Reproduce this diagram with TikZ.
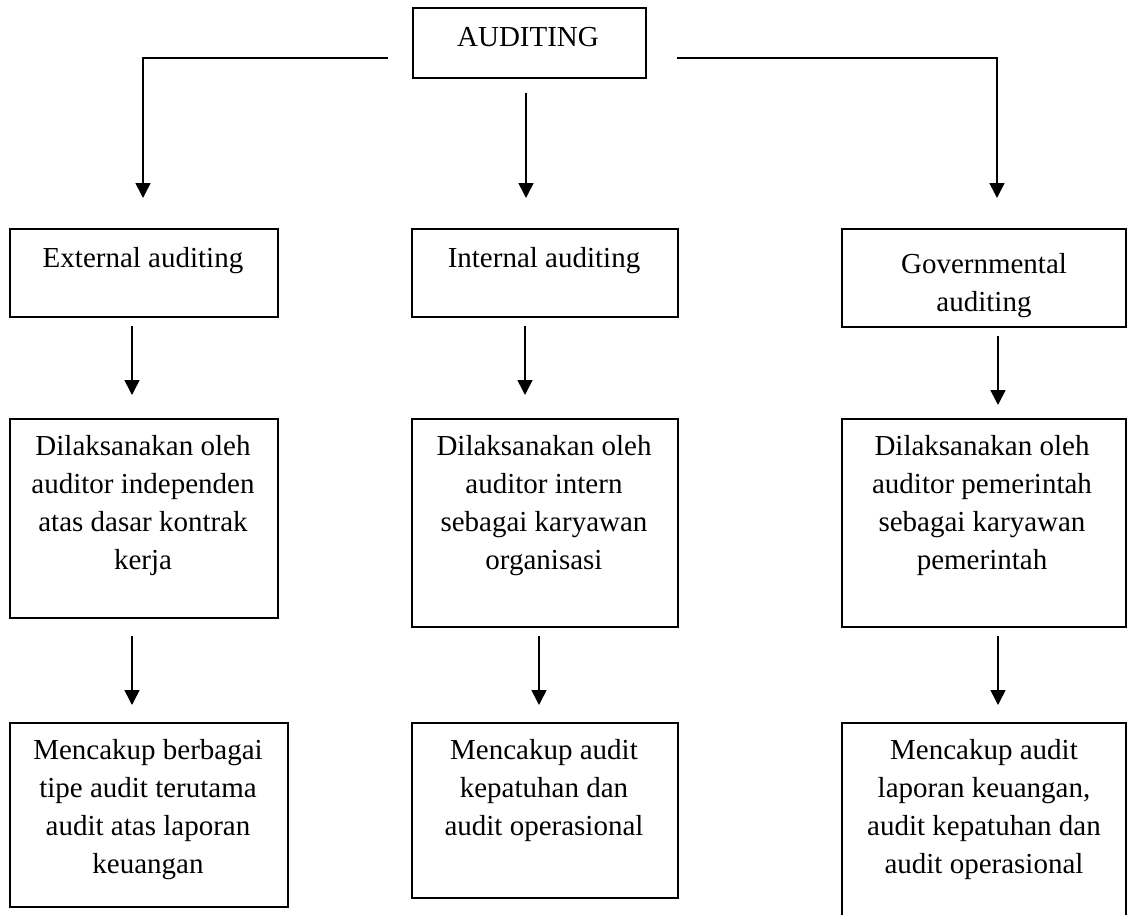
\documentclass[tikz,border=0pt]{standalone}
\usepackage{fontspec}
\setmainfont{Liberation Serif}
\usetikzlibrary{arrows.meta}
\begin{document}
\begin{tikzpicture}[x=1pt,y=-1pt,
  boxnode/.style={draw=black,line width=1.6pt,rectangle,inner sep=0pt,anchor=north west},
  txt/.style={inner sep=0pt,anchor=north,align=center,font=\fontsize{29}{38}\selectfont},
  conn/.style={line width=1.6pt},
  arr/.style={line width=1.6pt,-{Triangle[width=15pt,length=15pt]}}]
\useasboundingbox (0,0) rectangle (1127,915);
% boxes
\node[boxnode,minimum width=233pt,minimum height=70pt] (top) at (412,7) {};
\node[boxnode,minimum width=268pt,minimum height=88pt] (e2) at (9,228) {};
\node[boxnode,minimum width=266pt,minimum height=88pt] (i2) at (411,228) {};
\node[boxnode,minimum width=284pt,minimum height=98pt] (g2) at (841,228) {};
\node[boxnode,minimum width=268pt,minimum height=199pt] (e3) at (9,418) {};
\node[boxnode,minimum width=266pt,minimum height=208pt] (i3) at (411,418) {};
\node[boxnode,minimum width=284pt,minimum height=208pt] (g3) at (841,418) {};
\node[boxnode,minimum width=278pt,minimum height=184pt] (e4) at (9,722) {};
\node[boxnode,minimum width=266pt,minimum height=175pt] (i4) at (411,722) {};
\node[boxnode,minimum width=284pt,minimum height=230pt] (g4) at (841,722) {};
% texts
\node[txt] (topt) at (528,27) {AUDITING};
\node[txt] (e2t) at (143,247) {External auditing};
\node[txt] (i2t) at (544,247) {Internal auditing};
\node[txt] (g2t) at (984,253) {Governmental\\auditing};
\node[txt] (e3t) at (143,435) {Dilaksanakan oleh\\auditor independen\\atas dasar kontrak\\kerja};
\node[txt] (i3t) at (544,435) {Dilaksanakan oleh\\auditor intern\\sebagai karyawan\\organisasi};
\node[txt] (g3t) at (982,435) {Dilaksanakan oleh\\auditor pemerintah\\sebagai karyawan\\pemerintah};
\node[txt] (e4t) at (148,739) {Mencakup berbagai\\tipe audit terutama\\audit atas laporan\\keuangan};
\node[txt] (i4t) at (544,739) {Mencakup audit\\kepatuhan dan\\audit operasional};
\node[txt] (g4t) at (984,739) {Mencakup audit\\laporan keuangan,\\audit kepatuhan dan\\audit operasional};
% connector points
\coordinate (tl0) at (388,58);
\coordinate (tl1) at (143,58);
\coordinate (tl2) at (143,198);
\coordinate (tm0) at (526,93);
\coordinate (tm1) at (526,198);
\coordinate (tr0) at (677,58);
\coordinate (tr1) at (997,58);
\coordinate (tr2) at (997,198);
\coordinate (ea0) at (132,326);
\coordinate (ea1) at (132,395);
\coordinate (ia0) at (525,326);
\coordinate (ia1) at (525,395);
\coordinate (ga0) at (998,336);
\coordinate (ga1) at (998,405);
\coordinate (eb0) at (132,636);
\coordinate (eb1) at (132,705);
\coordinate (ib0) at (539,636);
\coordinate (ib1) at (539,705);
\coordinate (gb0) at (998,636);
\coordinate (gb1) at (998,705);
% connectors
\draw[arr] (tl0) -- (tl1) -- (tl2);
\draw[arr] (tm0) -- (tm1);
\draw[arr] (tr0) -- (tr1) -- (tr2);
\draw[arr] (ea0) -- (ea1);
\draw[arr] (ia0) -- (ia1);
\draw[arr] (ga0) -- (ga1);
\draw[arr] (eb0) -- (eb1);
\draw[arr] (ib0) -- (ib1);
\draw[arr] (gb0) -- (gb1);
\end{tikzpicture}
\end{document}
